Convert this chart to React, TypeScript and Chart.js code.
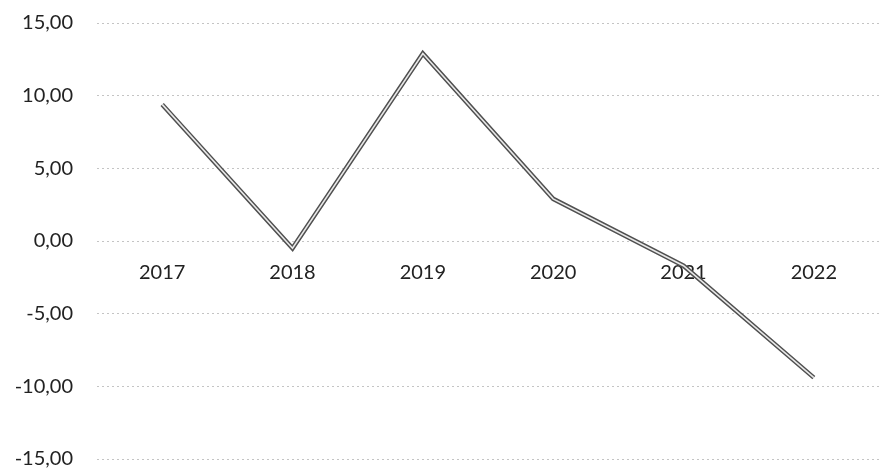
import React, { useEffect, useRef } from "react";
import { Chart, registerables } from "chart.js";

Chart.register(...registerables);

const categories = ["2017", "2018", "2019", "2020", "2021", "2022"];
const values = [9.4, -0.5, 12.9, 2.9, -1.7, -9.4];
const yMin = -15;
const yMax = 15;
const yStep = 5;

export default function App() {
  const ref = useRef<HTMLCanvasElement | null>(null);

  useEffect(() => {
    document.body.style.margin = "0";
    const canvas = ref.current;
    if (!canvas) return;
    const fontFamily = "Lato, 'Open Sans', sans-serif";
    const chart = new Chart(canvas, {
      type: "line",
      data: {
        labels: categories,
        datasets: [
          {
            data: values,
            borderColor: "#505050",
            borderWidth: 4.5,
            pointRadius: 0,
            tension: 0,
            fill: false,
            order: 2,
          },
          {
            data: values,
            borderColor: "#e8e8e8",
            borderWidth: 1.6,
            pointRadius: 0,
            tension: 0,
            fill: false,
            order: 1,
          },
        ],
      },
      options: {
        responsive: false,
        animation: false,
        events: [],
        layout: { padding: { top: 23, right: 0, bottom: 0, left: 0 } },
        plugins: {
          legend: { display: false },
          tooltip: { enabled: false },
        },
        scales: {
          x: {
            type: "category",
            position: { y: 0 } as any,
            offset: true,
            grid: { display: false },
            border: { display: false },
            ticks: {
              color: "#222",
              padding: 12,
              maxRotation: 0,
              font: { family: fontFamily, size: 20 },
            },
            afterFit: (scale: any) => {
              scale.height = 0;
            },
          },
          y: {
            min: yMin,
            max: yMax,
            grid: {
              color: "#c4c4c4",
              lineWidth: 1,
              drawTicks: true,
              tickLength: 24,
              tickColor: "rgba(0,0,0,0)",
            },
            border: { display: false, dash: [2, 3] },
            ticks: {
              stepSize: yStep,
              color: "#222",
              padding: 0,
              font: { family: fontFamily, size: 20 },
              callback: (v: any) => Number(v).toFixed(2).replace(".", ","),
            },
            afterFit: (scale: any) => {
              scale.width = 97;
            },
          },
        },
      },
    });
    return () => chart.destroy();
  }, []);

  return (
    <div style={{ width: 879, height: 471, background: "#fff" }}>
      <canvas ref={ref} width={879} height={471} style={{ display: "block" }} />
    </div>
  );
}
